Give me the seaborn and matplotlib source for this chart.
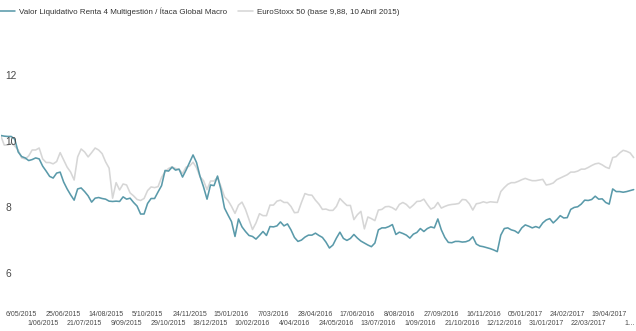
import numpy as np
import pandas as pd
import matplotlib
matplotlib.use("Agg")
import matplotlib.pyplot as plt
import matplotlib.transforms as mtransforms
from matplotlib.lines import Line2D
import seaborn as sns

# One value every 3 sessions, starting 10 April 2015 (base 9,88)
sessions_per_point = 3
sessions_per_label = 18

fund = [
    9.88, 9.86, 9.85, 9.85, 9.77, 9.38, 9.24, 9.20, 9.12, 9.15,
    9.20, 9.17, 8.95, 8.80, 8.64, 8.59, 8.74, 8.77, 8.47, 8.26,
    8.08, 7.92, 8.26, 8.29, 8.18, 8.05, 7.86, 7.98, 8.00, 7.97,
    7.95, 7.89, 7.88, 7.89, 7.88, 8.02, 7.95, 7.98, 7.85, 7.74,
    7.50, 7.50, 7.82, 7.97, 7.97, 8.17, 8.36, 8.82, 8.80, 8.92,
    8.83, 8.86, 8.62, 8.83, 9.06, 9.29, 9.06, 8.64, 8.32, 7.95,
    8.38, 8.36, 8.65, 8.23, 7.68, 7.47, 7.27, 6.82, 7.35, 7.11,
    6.97, 6.85, 6.82, 6.74, 6.85, 6.97, 6.85, 7.12, 7.11, 7.14,
    7.26, 7.14, 7.20, 7.02, 6.79, 6.67, 6.71, 6.80, 6.86, 6.86,
    6.92, 6.85, 6.79, 6.65, 6.47, 6.56, 6.77, 6.95, 6.76, 6.70,
    6.76, 6.88, 6.77, 6.68, 6.62, 6.56, 6.51, 6.62, 7.02, 7.08,
    7.08, 7.12, 7.18, 6.88, 6.95, 6.91, 6.86, 6.77, 6.89, 6.94,
    7.06, 6.97, 7.06, 7.11, 7.08, 7.35, 7.02, 6.79, 6.64, 6.63,
    6.67, 6.67, 6.65, 6.66, 6.70, 6.81, 6.59, 6.53, 6.51, 6.48,
    6.45, 6.41, 6.36, 6.86, 7.06, 7.08, 7.02, 6.99, 6.92, 7.08,
    7.17, 7.13, 7.08, 7.12, 7.08, 7.23, 7.32, 7.36, 7.23, 7.33,
    7.45, 7.38, 7.39, 7.64, 7.70, 7.72, 7.80, 7.92, 7.91, 7.94,
    8.04, 7.95, 7.96, 7.85, 7.80, 8.26, 8.18, 8.18, 8.16, 8.18,
    8.21, 8.24,
]

stoxx = [
    9.88, 9.59, 9.59, 9.65, 9.56, 9.44, 9.20, 9.17, 9.26, 9.44,
    9.44, 9.50, 9.17, 9.06, 9.06, 9.02, 9.09, 9.36, 9.14, 8.92,
    8.77, 8.53, 9.23, 9.47, 9.38, 9.23, 9.36, 9.50, 9.44, 9.33,
    9.08, 8.89, 7.98, 8.45, 8.23, 8.41, 8.38, 8.14, 8.05, 7.94,
    7.91, 7.97, 8.21, 8.32, 8.30, 8.33, 8.61, 8.78, 8.88, 8.93,
    8.88, 8.85, 8.73, 8.92, 8.95, 9.07, 8.90, 8.63, 8.51, 8.24,
    8.50, 8.50, 8.61, 8.33, 8.02, 7.91, 7.73, 7.52, 7.77, 7.86,
    7.64, 7.33, 7.03, 7.23, 7.51, 7.45, 7.45, 7.77, 7.77, 7.89,
    7.92, 7.85, 7.85, 7.73, 7.54, 7.55, 7.85, 8.12, 8.08, 8.07,
    7.92, 7.80, 7.64, 7.65, 7.61, 7.61, 7.73, 7.97, 7.86, 7.76,
    7.76, 7.33, 7.48, 7.58, 7.05, 7.41, 7.36, 7.30, 7.62, 7.64,
    7.72, 7.73, 7.69, 7.62, 7.79, 7.85, 7.79, 7.68, 7.77, 7.88,
    7.89, 7.95, 7.79, 7.65, 7.70, 7.85, 7.68, 7.73, 7.77, 7.79,
    7.80, 7.82, 7.94, 7.93, 7.81, 7.62, 7.81, 7.83, 7.87, 7.84,
    7.87, 7.86, 7.85, 8.18, 8.30, 8.40, 8.45, 8.45, 8.49, 8.54,
    8.58, 8.54, 8.51, 8.51, 8.53, 8.55, 8.38, 8.40, 8.44, 8.54,
    8.59, 8.64, 8.69, 8.77, 8.77, 8.80, 8.86, 8.86, 8.91, 8.97,
    9.02, 9.04, 8.99, 8.92, 8.88, 9.21, 9.24, 9.35, 9.43, 9.40,
    9.35, 9.21,
]

tick_dates = [
    "6/05/2015", "1/06/2015", "25/06/2015", "21/07/2015", "14/08/2015",
    "9/09/2015", "5/10/2015", "29/10/2015", "24/11/2015", "18/12/2015",
    "15/01/2016", "10/02/2016", "7/03/2016", "4/04/2016", "28/04/2016",
    "24/05/2016", "17/06/2016", "13/07/2016", "8/08/2016", "1/09/2016",
    "27/09/2016", "21/10/2016", "16/11/2016", "12/12/2016", "05/01/2017",
    "31/01/2017", "24/02/2017", "22/03/2017", "19/04/2017", "1…",
]

y_ticks = [6, 8, 10, 12]

fund_label = "Valor Liquidativo Renta 4 Multigestión / Ítaca Global Macro"
stoxx_label = "EuroStoxx 50 (base 9,88, 10 Abril 2015)"

fund_color = "#5a9aaa"
stoxx_color = "#d6d6d6"
text_color = "#4a4a4a"

sns.set_theme(style="white")
plt.rcParams["font.family"] = ["Liberation Sans", "DejaVu Sans"]

sessions = np.arange(len(fund)) * sessions_per_point
df = pd.concat([
    pd.DataFrame({"session": sessions, "value": stoxx, "serie": stoxx_label}),
    pd.DataFrame({"session": sessions, "value": fund, "serie": fund_label}),
], ignore_index=True)

fig = plt.figure(figsize=(6.36, 3.31), dpi=100)
ax = fig.add_axes([0.0011, 0.164, 0.9989, 0.7378])

sns.lineplot(
    data=df, x="session", y="value", hue="serie",
    hue_order=[stoxx_label, fund_label],
    palette={stoxx_label: stoxx_color, fund_label: fund_color},
    linewidth=1.15, legend=False, ax=ax,
)

ax.set_xlim(0, 545)
ax.set_ylim(5.6, 13.0)
for side in ax.spines.values():
    side.set_visible(False)
ax.grid(False)
ax.set_xlabel("")
ax.set_ylabel("")
# tick labels sit on top of the lines
ax.set_axisbelow(False)

# x axis: every 18th session labelled, alternating on two rows
tick_pos = [sessions_per_label * (k + 1) for k in range(len(tick_dates))]
ax.set_xticks(tick_pos[0::2])
ax.set_xticklabels(tick_dates[0::2], fontsize=5.0, color=text_color)
ax.set_xticks(tick_pos[1::2], minor=True)
ax.set_xticklabels(tick_dates[1::2], minor=True, fontsize=5.0, color=text_color)
ax.tick_params(axis="x", which="major", length=0, pad=25.0)
ax.tick_params(axis="x", which="minor", length=0, pad=31.5)

# y axis: labels drawn inside the plot, just under their value
ax.set_yticks(y_ticks)
ax.set_yticklabels([str(v) for v in y_ticks], fontsize=7.4, color=text_color)
ax.tick_params(axis="y", length=0, pad=-3.2)
shift = mtransforms.ScaledTranslation(0, -5.5 / 100, fig.dpi_scale_trans)
for lbl in ax.get_yticklabels():
    lbl.set_horizontalalignment("left")
    lbl.set_verticalalignment("top")
    lbl.set_transform(lbl.get_transform() + shift)

handles = [
    Line2D([], [], color=fund_color, linewidth=1.15),
    Line2D([], [], color=stoxx_color, linewidth=1.15),
]
fig.legend(
    handles, [fund_label, stoxx_label],
    loc="center left", bbox_to_anchor=(0.0, 1 - 12 / 331),
    ncol=2, frameon=False, fontsize=5.8, labelcolor="#333333",
    handlelength=1.86, handletextpad=0.5, columnspacing=1.36,
    borderpad=0, borderaxespad=0,
)

fig.savefig("out.png", dpi=100)
